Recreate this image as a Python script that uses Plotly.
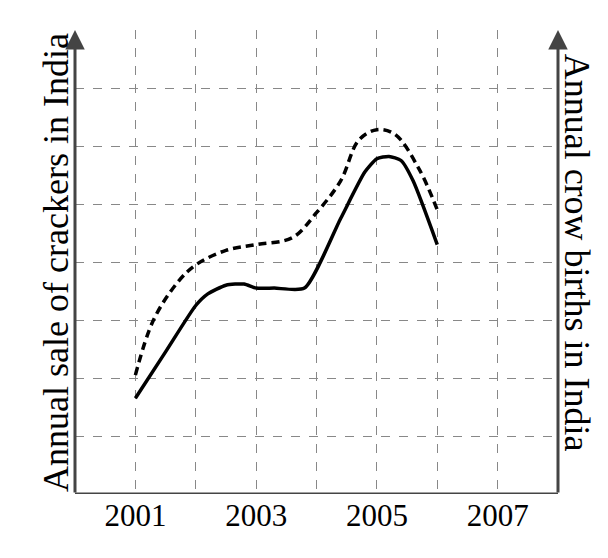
import plotly.graph_objects as go

# data (x in years, y in grid units)
solid_x = [2001, 2001.5, 2002, 2002.2, 2002.5, 2002.8, 2003, 2003.3, 2003.8, 2004.4, 2004.8, 2005.0, 2005.2, 2005.4, 2005.6, 2006]
solid_y = [1.65, 2.45, 3.25, 3.45, 3.6, 3.62, 3.55, 3.55, 3.55, 4.75, 5.55, 5.78, 5.82, 5.75, 5.4, 4.3]
dash_x = [2001, 2001.3, 2001.7, 2002, 2002.5, 2003, 2003.6, 2004.0, 2004.4, 2004.7, 2005.0, 2005.3, 2005.7, 2006]
dash_y = [2.05, 3.0, 3.65, 3.95, 4.2, 4.3, 4.42, 4.85, 5.4, 6.1, 6.28, 6.2, 5.6, 4.9]
years = list(range(2000, 2009))
tick_text = ["", "2001", "", "2003", "", "2005", "", "2007", ""]

font = "Liberation Serif"
fig = go.Figure()
fig.add_trace(go.Scatter(x=dash_x, y=dash_y, mode="lines",
                         line=dict(color="black", width=3.5, dash="8px,5px", shape="spline")))
fig.add_trace(go.Scatter(x=solid_x, y=solid_y, mode="lines",
                         line=dict(color="black", width=3.5, shape="spline", smoothing=0.6)))

axis_col = "#444"
# axes with arrow heads
for x in (2000, 2008):
    fig.add_annotation(x=x, y=8.0, ax=x, ay=0, xref="x", yref="y", axref="x", ayref="y",
                       showarrow=True, arrowhead=2, arrowsize=1.3, arrowwidth=3, arrowcolor=axis_col, text="")
fig.add_shape(type="line", x0=2000, x1=2008, y0=0, y1=0, line=dict(color=axis_col, width=3))

fig.add_annotation(x=-0.085, y=0.5, xref="paper", yref="paper", text="Annual sale of crackers in India",
                   textangle=-90, showarrow=False, font=dict(family=font, size=36, color="black"))
fig.add_annotation(x=1.085, y=0.52, xref="paper", yref="paper", text="Annual crow births in India",
                   textangle=90, showarrow=False, font=dict(family=font, size=36, color="black"))

fig.update_layout(
    width=608, height=558, showlegend=False,
    paper_bgcolor="white", plot_bgcolor="white",
    margin=dict(l=67, r=58, t=22, b=72),
    xaxis=dict(range=[2000, 2008], tickvals=years, ticktext=tick_text, showgrid=True,
               gridcolor="#888", griddash="dash", gridwidth=1, zeroline=False,
               tickfont=dict(family=font, size=31, color="black"), ticks=""),
    yaxis=dict(range=[0, 8], tickvals=list(range(0, 9)), showticklabels=False, showgrid=True,
               gridcolor="#888", griddash="dash", gridwidth=1, zeroline=False, ticks=""),
)
fig.write_html("out.html")
